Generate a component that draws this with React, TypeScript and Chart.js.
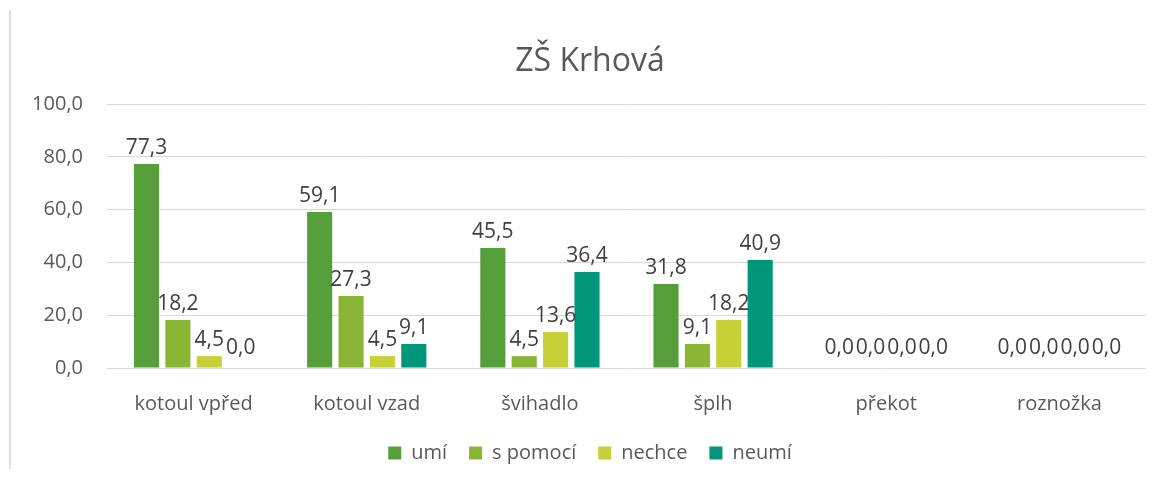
import React, { useEffect, useRef } from "react";
import { Chart, registerables } from "chart.js";

Chart.register(...registerables);

const categories = ["kotoul vpřed", "kotoul vzad", "švihadlo", "šplh", "překot", "roznožka"];
const seriesNames = ["umí", "s pomocí", "nechce", "neumí"];
const umi = [77.3, 59.1, 45.5, 31.8, 0, 0];
const sPomoci = [18.2, 27.3, 4.5, 9.1, 0, 0];
const nechce = [4.5, 4.5, 13.6, 18.2, 0, 0];
const neumi = [0, 9.1, 36.4, 40.9, 0, 0];
const colors = ["#559E3A", "#8BB635", "#C5D136", "#00967A"];
const yTicks = [0, 20, 40, 60, 80, 100];

const FONT = "'Open Sans', 'Noto Sans', sans-serif";
const fmt = (v: number) => v.toFixed(1).replace(".", ",");

const dataLabels = {
  id: "dataLabels",
  afterDatasetsDraw(chart: any) {
    const ctx = chart.ctx;
    ctx.save();
    ctx.font = `21px ${FONT}`;
    ctx.fillStyle = "#404040";
    ctx.textAlign = "center";
    ctx.textBaseline = "alphabetic";
    chart.data.datasets.forEach((ds: any, di: number) => {
      const meta = chart.getDatasetMeta(di);
      meta.data.forEach((el: any, i: number) => {
        const v = ds.data[i] as number;
        ctx.fillText(fmt(v), el.x, el.y - (v === 0 ? 14 : 10));
      });
    });
    ctx.restore();
  },
};

export default function App() {
  const ref = useRef<HTMLCanvasElement | null>(null);
  useEffect(() => {
    if (!ref.current) return;
    const series = [umi, sPomoci, nechce, neumi];
    const chart = new Chart(ref.current, {
      type: "bar",
      data: {
        labels: categories,
        datasets: series.map((d, i) => ({
          label: seriesNames[i],
          data: d,
          backgroundColor: colors[i],
          borderWidth: 0,
          categoryPercentage: 0.725,
          barPercentage: 0.8,
        })),
      },
      options: {
        responsive: false,
        animation: false,
        devicePixelRatio: 1,
        layout: { padding: { left: 34, right: 16, top: 0, bottom: 4 } },
        plugins: {
          title: {
            display: true,
            text: "ZŠ Krhová",
            color: "#595959",
            font: { family: FONT, size: 32, weight: "normal" as any },
            padding: { top: 42.8, bottom: 22.8 },
          },
          legend: {
            position: "bottom",
            labels: {
              boxWidth: 13,
              boxHeight: 13,
              padding: 22,
              color: "#595959",
              font: { family: FONT, size: 20 },
            },
          },
          tooltip: { enabled: false },
        },
        scales: {
          x: {
            grid: { display: false, drawTicks: false },
            border: { display: false },
            ticks: { color: "#595959", font: { family: FONT, size: 20 }, padding: 24, maxRotation: 0 },
            afterFit: (s: any) => {
              s.height = 53;
            },
          },
          y: {
            min: 0,
            max: 100,
            afterBuildTicks: (s: any) => {
              s.ticks = yTicks.map((v) => ({ value: v }));
            },
            grid: { color: "#d9d9d9", lineWidth: 1, drawTicks: false },
            border: { display: false },
            ticks: {
              color: "#595959",
              font: { family: FONT, size: 20 },
              padding: 24,
              callback: (v: any) => fmt(Number(v)),
            },
            afterFit: (s: any) => {
              s.width = 73;
            },
          },
        },
      },
      plugins: [dataLabels],
    });
    return () => chart.destroy();
  }, []);
  return (
    <div style={{ position: "relative", width: 1162, height: 477, margin: -8, background: "#fff", overflow: "hidden" }}>
      <canvas ref={ref} width={1162} height={477} style={{ display: "block" }} />
      <div style={{ position: "absolute", left: 9, top: 10, bottom: 0, width: 2, background: "#e0e0e0" }} />
    </div>
  );
}
